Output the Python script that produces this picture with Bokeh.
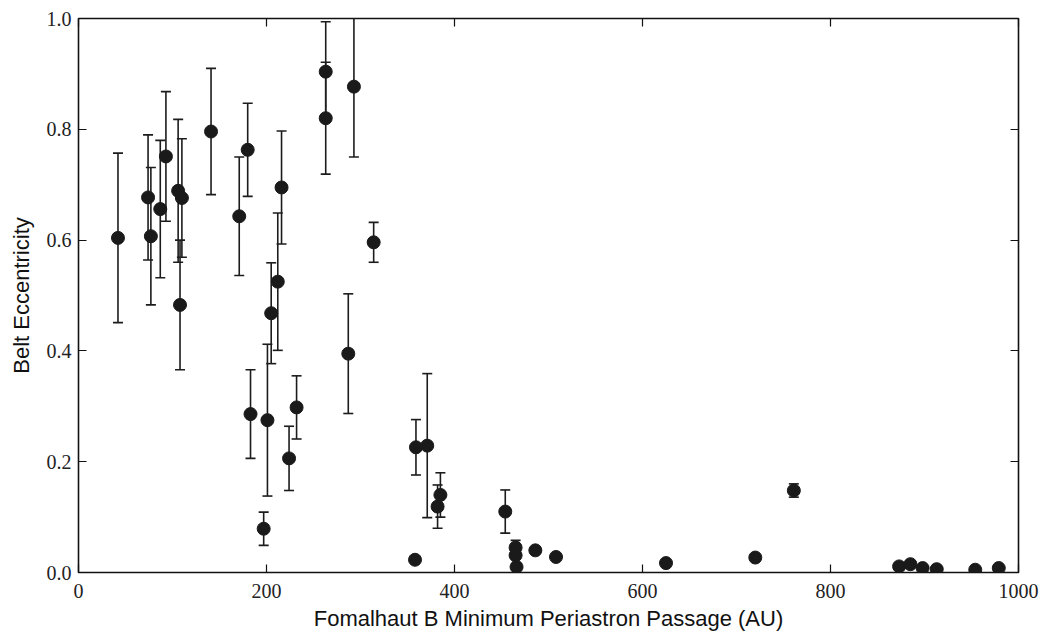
from bokeh.plotting import figure
from bokeh.models import LinearAxis, FixedTicker, NumeralTickFormatter, Range1d, ColumnDataSource
from bokeh.embed import file_html
from bokeh.resources import INLINE

# Data
periastron_au = [42, 74, 77, 87, 93, 106, 110, 108, 141, 171, 180, 183, 197, 201, 205, 212, 216,
                 224, 232, 263, 263, 287, 293, 314, 358, 359, 371, 382, 385, 454, 465, 465, 466,
                 486, 508, 625, 720, 761, 873, 885, 898, 913, 954, 979]
eccentricity = [0.604, 0.677, 0.607, 0.656, 0.751, 0.689, 0.676, 0.483, 0.796, 0.643, 0.763,
                0.286, 0.079, 0.275, 0.468, 0.525, 0.695, 0.206, 0.298, 0.904, 0.820, 0.395,
                0.877, 0.596, 0.023, 0.226, 0.229, 0.119, 0.140, 0.110, 0.045, 0.031, 0.010,
                0.040, 0.028, 0.017, 0.027, 0.148, 0.011, 0.015, 0.008, 0.006, 0.005, 0.008]
ecc_error = [0.153, 0.113, 0.124, 0.124, 0.117, 0.129, 0.107, 0.117, 0.114, 0.107, 0.084,
             0.080, 0.030, 0.137, 0.091, 0.124, 0.102, 0.058, 0.057, 0.090, 0.101, 0.108,
             0.127, 0.036, 0.0, 0.050, 0.130, 0.039, 0.040, 0.039, 0.013, 0.0, 0.0,
             0.0, 0.0, 0.0, 0.0, 0.012, 0.0, 0.0, 0.0, 0.0, 0.0, 0.0]
x_ticks = [0, 200, 400, 600, 800, 1000]
y_ticks = [0.0, 0.2, 0.4, 0.6, 0.8, 1.0]

# error-bar table
ex, elo, ehi = [], [], []
for xv, yv, ev in zip(periastron_au, eccentricity, ecc_error):
    if ev > 0:
        ex.append(xv)
        elo.append(yv - ev)
        ehi.append(yv + ev)
err_src = ColumnDataSource(dict(x=ex, lo=elo, hi=ehi))
pts_src = ColumnDataSource(dict(x=periastron_au, y=eccentricity))

p = figure(width=1043, height=633, output_backend="svg", toolbar_location=None,
           x_range=Range1d(0, 1000), y_range=Range1d(0, 1.0),
           min_border_left=78, min_border_right=25, min_border_top=18, min_border_bottom=60,
           x_axis_label="Fomalhaut B Minimum Periastron Passage (AU)",
           y_axis_label="Belt Eccentricity")
p.background_fill_color = "white"
p.border_fill_color = "white"
p.xgrid.visible = False
p.ygrid.visible = False
p.outline_line_color = "#111111"
p.outline_line_width = 1.6

ecol = "#1c1c1c"
p.segment(x0="x", y0="lo", x1="x", y1="hi", source=err_src, line_color=ecol, line_width=1.6)
p.scatter(x="x", y="lo", source=err_src, marker="dash", size=10, line_color=ecol, line_width=1.6)
p.scatter(x="x", y="hi", source=err_src, marker="dash", size=10, line_color=ecol, line_width=1.6)
p.scatter(x="x", y="y", source=pts_src, size=13, fill_color="#1a1a1a", line_color="#1a1a1a")

def style_axis(ax):
    ax.axis_line_color = None
    ax.major_tick_in = 8
    ax.major_tick_out = 0
    ax.major_tick_line_color = "#111111"
    ax.major_tick_line_width = 1.2
    ax.minor_tick_line_color = None
    ax.major_label_text_font = "Liberation Serif"
    ax.major_label_text_font_size = "20px"
    ax.major_label_text_color = "#222222"
    ax.axis_label_text_font = "Liberation Sans"
    ax.axis_label_text_font_size = "22px"
    ax.axis_label_text_font_style = "normal"
    ax.axis_label_text_color = "#111111"

xa = p.xaxis[0]
ya = p.yaxis[0]
xa.ticker = FixedTicker(ticks=x_ticks)
ya.ticker = FixedTicker(ticks=y_ticks)
ya.formatter = NumeralTickFormatter(format="0.0")
style_axis(xa)
style_axis(ya)
xa.major_label_standoff = 11
ya.major_label_standoff = 7
xa.axis_label_standoff = 5
ya.axis_label_standoff = 10

# tick-only axes on top and right (classic matplotlib frame)
top = LinearAxis(ticker=FixedTicker(ticks=x_ticks))
right = LinearAxis(ticker=FixedTicker(ticks=y_ticks))
for ax in (top, right):
    style_axis(ax)
    ax.major_label_text_font_size = "1px"
    ax.major_label_text_color = None
    ax.major_label_standoff = 0
p.add_layout(top, "above")
p.add_layout(right, "right")

open("out.html", "w").write(file_html(p, INLINE))
